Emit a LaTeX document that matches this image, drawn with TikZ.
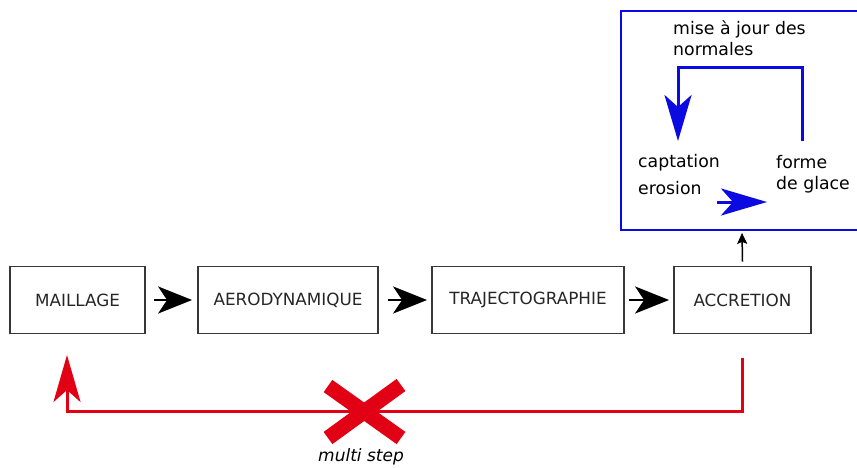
\documentclass[tikz,border=0pt]{standalone}
\usepackage{fontspec}
\setmainfont{DejaVu Sans}
\usetikzlibrary{arrows.meta}
\definecolor{myblue}{RGB}{10,10,225}
\definecolor{myred}{RGB}{225,0,20}
\definecolor{boxline}{RGB}{55,55,55}
\begin{document}
\begin{tikzpicture}[x=1pt,y=-1pt,
  stagebox/.style={draw=boxline,line width=1.8pt,fill=white,minimum height=67pt,inner sep=0pt,
    font=\fontsize{16.8}{19}\selectfont,text=black!85},
  bigarrow/.style={line width=2.5pt,-{Stealth[length=34pt,width=27pt,inset=9pt]}},
  bluetext/.style={font=\fontsize{17.3}{21}\selectfont,text=black,inner sep=0pt,align=left},
  blueline/.style={draw=myblue,line width=3pt},
  bluehead/.style={-{Stealth[length=46pt,width=27pt,inset=12pt]}},
  redline/.style={draw=myred,line width=3pt},
]
\useasboundingbox (0,0) rectangle (857,467);
% stage boxes
\node[stagebox,minimum width=135pt] (mai) at (77.5,300) {MAILLAGE};
\node[stagebox,minimum width=180pt] (aer) at (288,300) {AERODYNAMIQUE};
\node[stagebox,minimum width=192pt] (tra) at (528,300) {TRAJECTOGRAPHIE};
\node[stagebox,minimum width=137pt] (acc) at (742.5,300) {ACCRETION};
% black arrows
\draw[bigarrow] ([xshift=8pt]mai.east) -- ([xshift=-5pt]aer.west);
\draw[bigarrow] ([xshift=9pt]aer.east) -- ([xshift=-4pt]tra.west);
\draw[bigarrow] ([xshift=4pt]tra.east) -- ([xshift=-4pt]acc.west);
% blue box
\node[draw=myblue,line width=1.8pt,minimum width=242pt,minimum height=219pt,inner sep=0pt] (loop) at (742,120.5) {};
\draw[line width=1.5pt,-{Stealth[length=11pt,width=10pt,inset=2pt]}] ([yshift=4pt]acc.north) -- ([yshift=-2pt]loop.south);
% blue labels
\node[bluetext,anchor=north west] (maj) at (673,20) {mise à jour des\\normales};
\node[bluetext,anchor=west] (cap) at (638,163) {captation};
\node[bluetext,anchor=west] (ero) at (638,188) {erosion};
\node[bluetext,anchor=west] (fdg) at (776,174) {forme\\de glace};
% blue loop
\coordinate (fgtop) at (802,141);
\coordinate (captop) at (678,141);
\draw[blueline,bluehead] (fgtop) -- ++(0,-74) -| (captop);
\coordinate (ea) at (717,202);
\coordinate (eb) at (767,202);
\draw[blueline,bluehead] (ea) -- (eb);
% red feedback
\coordinate (rs) at (742,358);
\coordinate (re) at (67,355);
\draw[redline,-{Stealth[length=47pt,width=27pt,inset=12pt]}] (rs) -- (742,411) -| (re);
% red cross
\coordinate (xa) at (328,386);
\coordinate (xb) at (401,438);
\coordinate (xc) at (401,385);
\coordinate (xd) at (328,438);
\draw[myred,line width=15pt] (xa) -- (xb);
\draw[myred,line width=15pt] (xc) -- (xd);
\node[font=\fontsize{17}{19}\selectfont\itshape,inner sep=0pt] (ms) at (361,457) {multi step};
\end{tikzpicture}
\end{document}
